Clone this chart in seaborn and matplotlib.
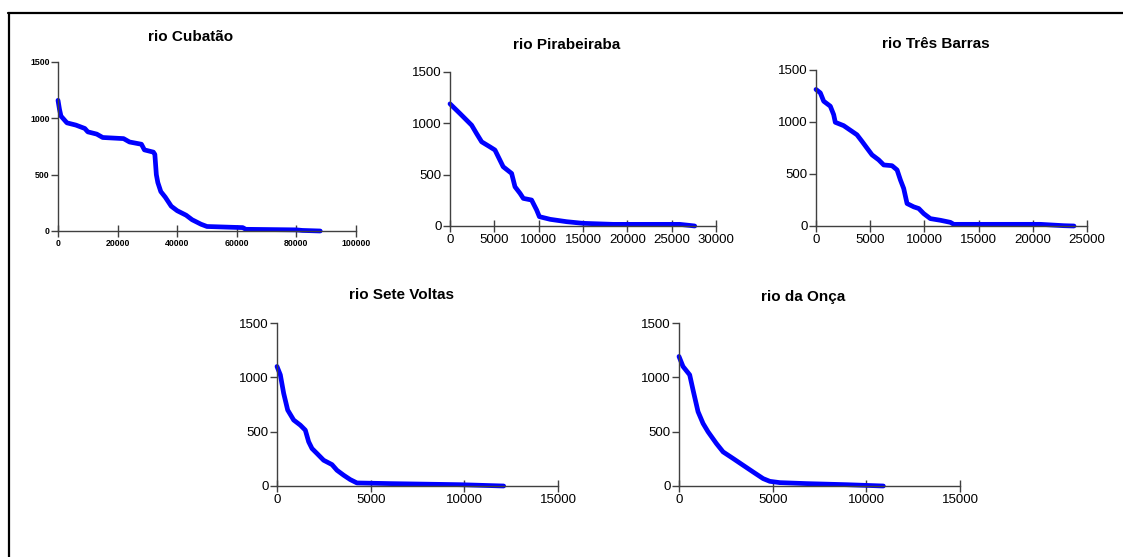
import matplotlib
matplotlib.use("Agg")
import matplotlib.pyplot as plt
import seaborn as sns
from matplotlib.lines import Line2D

sns.set_style("white")
plt.rcParams['font.family'] = ['Liberation Sans', 'DejaVu Sans']
plt.rcParams['text.color'] = 'black'
plt.rcParams['xtick.color'] = 'black'
plt.rcParams['ytick.color'] = 'black'

titles = ["rio Cubatão", "rio Pirabeiraba", "rio Três Barras", "rio Sete Voltas", "rio da Onça"]

cub_x = [0, 500, 1000, 2000, 3000, 6000, 9000, 10000, 13000, 15000, 22000, 24000, 28000, 29000,
         32000, 32500, 33000, 33500, 34500, 36000, 38000, 40000, 43000, 45000, 48000, 50000,
         62000, 63000, 80000, 82000, 88000]
cub_y = [1160, 1080, 1020, 990, 960, 940, 910, 880, 860, 830, 820, 790, 770, 720,
         700, 680, 500, 430, 350, 300, 220, 180, 140, 100, 60, 40,
         30, 15, 10, 5, 0]

pir_x = [0, 1130, 2440, 3000, 3570, 4500, 5070, 6000, 6950, 7330, 7900, 8270, 9200, 9770,
         10080, 11300, 13150, 15000, 18400, 25900, 27000, 27600]
pir_y = [1190, 1095, 982, 900, 820, 771, 740, 577, 512, 382, 318, 269, 253, 156,
         91, 65, 42, 26, 16, 16, 6, 0]

tre_x = [0, 400, 710, 1320, 1630, 1780, 2550, 3320, 3780, 4250, 4710, 5170, 5780, 6250,
         7010, 7480, 7790, 8090, 8400, 9020, 9480, 9940, 10550, 11480, 12400, 12710,
         20700, 22860, 23800]
tre_y = [1313, 1280, 1200, 1152, 1071, 997, 965, 910, 877, 813, 748, 684, 636, 587,
         580, 539, 442, 361, 216, 184, 168, 119, 71, 55, 35, 16,
         16, 3, 0]

set_x = [0, 178, 356, 570, 890, 1245, 1512, 1690, 1868, 2135, 2490, 2935, 3200, 3560,
         3910, 4270, 6050, 9790, 12100]
set_y = [1100, 1023, 853, 699, 607, 560, 514, 407, 345, 299, 237, 197, 145, 99,
         59, 28, 22, 12, 0]

onc_x = [0, 214, 570, 749, 1016, 1283, 1550, 1996, 2353, 2888, 3422, 3957, 4492, 4848,
         5383, 6809, 8948, 10909]
onc_y = [1192, 1100, 1023, 884, 684, 576, 499, 391, 314, 253, 191, 129, 68, 43,
         31, 22, 12, 0]

x_ticks = [
    [0, 20000, 40000, 60000, 80000, 100000],
    [0, 5000, 10000, 15000, 20000, 25000, 30000],
    [0, 5000, 10000, 15000, 20000, 25000],
    [0, 5000, 10000, 15000],
    [0, 5000, 10000, 15000],
]
y_ticks = [0, 500, 1000, 1500]

series = [(cub_x, cub_y), (pir_x, pir_y), (tre_x, tre_y), (set_x, set_y), (onc_x, onc_y)]

W, H = 1123, 557
# pixel boxes: left, right, bottom, top
boxes = [
    (58, 356, 231, 62),
    (450, 716, 226, 72),
    (816, 1087, 226, 70),
    (277, 558, 486, 323),
    (679, 960, 486, 323),
]
title_gap = [25, 27, 26, 28, 26]

fig = plt.figure(figsize=(W / 100, H / 100), dpi=100)

for i, ((xs, ys), (l, r, b, t)) in enumerate(zip(series, boxes)):
    ax = fig.add_axes([l / W, 1 - b / H, (r - l) / W, (b - t) / H])
    sns.lineplot(x=xs, y=ys, ax=ax, color="#0000ff", linewidth=3.4, clip_on=False)
    ax.set_xlim(x_ticks[i][0], x_ticks[i][-1])
    ax.set_ylim(0, 1500)
    ax.set_xticks(x_ticks[i])
    ax.set_yticks(y_ticks)
    ax.set_xticklabels([str(v) for v in x_ticks[i]])
    ax.set_yticklabels([str(v) for v in y_ticks])
    for s in ["top", "right"]:
        ax.spines[s].set_visible(False)
    for s in ["left", "bottom"]:
        ax.spines[s].set_color("#404040")
        ax.spines[s].set_linewidth(1.0)
    fs = 6.3 if i == 0 else 9.5
    ax.tick_params(axis="y", direction="out", length=5, width=1, color="#404040",
                   labelsize=fs, labelcolor="black", pad=1, left=True)
    ax.tick_params(axis="x", direction="inout", length=8, width=1, color="#404040",
                   labelsize=fs, labelcolor="black", pad=2, bottom=True)
    if i == 0:
        for lab in ax.get_xticklabels() + ax.get_yticklabels():
            lab.set_fontweight("bold")
    ax.set_xlabel("")
    ax.set_ylabel("")
    wpx = r - l
    hpx = b - t
    ax.text(0.5 - 16 / wpx, 1 + title_gap[i] / hpx, titles[i], transform=ax.transAxes,
            ha="center", va="center", fontsize=11, fontweight="bold", color="black")

# outer frame (top and left edges)
fig.add_artist(Line2D([8 / W, 1.0], [1 - 13 / H, 1 - 13 / H], color="black", linewidth=1.6,
                      transform=fig.transFigure))
fig.add_artist(Line2D([9 / W, 9 / W], [0.0, 1 - 13 / H], color="black", linewidth=1.6,
                      transform=fig.transFigure))

fig.savefig("out.png", dpi=100, facecolor="white")
